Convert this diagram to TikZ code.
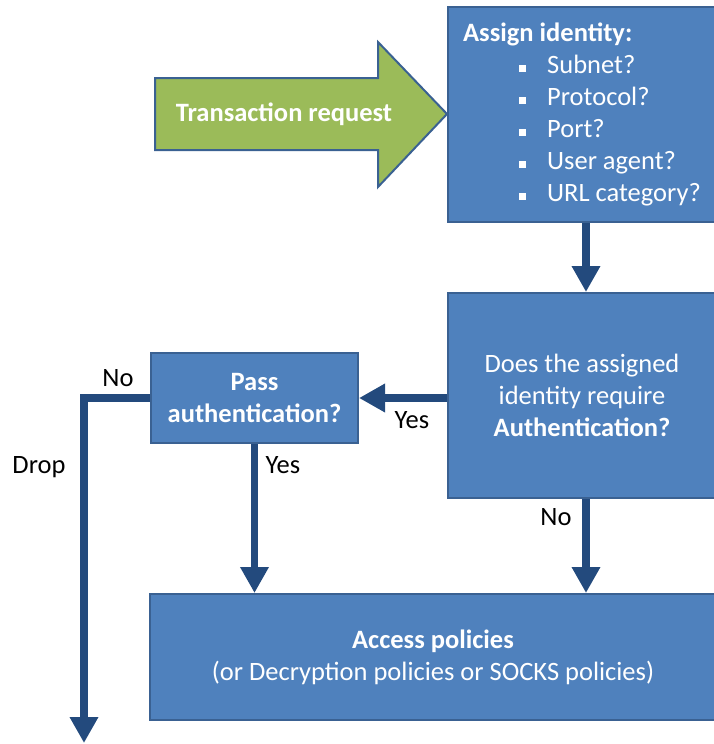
\documentclass[tikz,border=0pt]{standalone}
\usepackage{fontspec}
\setmainfont{Carlito}
\usepackage{tikz}
\usetikzlibrary{arrows.meta,positioning,calc}
\usepackage{xcolor}
\definecolor{boxblue}{HTML}{4F81BD}
\definecolor{boxedge}{HTML}{3A6192}
\definecolor{flowblue}{HTML}{234A7D}
\definecolor{reqgreen}{HTML}{9BBB59}
\newcommand{\idline}[1]{\hspace*{56pt}\rule[2pt]{7pt}{7pt}\hspace{21pt}#1}

\begin{document}
\begin{tikzpicture}[x=1pt,y=-1pt,
  box/.style={draw=boxedge, fill=boxblue, line width=2pt, text=white,
              align=center, font=\fontsize{26.5}{32}\selectfont, inner sep=0pt},
  lbl/.style={font=\fontsize{26.5}{32}\selectfont, inner sep=0pt},
  ar/.style={-{Triangle[length=26pt,width=27pt]}, line width=7.5pt, draw=flowblue}]
\useasboundingbox (0,0) rectangle (713,744);
% boxes
\node[box, minimum width=268pt, minimum height=215pt, align=left] (ident) at (582,114.5)
  {\textbf{Assign identity:}\\ \idline{Subnet?}\\ \idline{Protocol?}\\ \idline{Port?}\\
   \idline{User agent?}\\ \idline{URL category?}};
\node[box, minimum width=268pt, minimum height=205pt] (auth) at (582,395.5)
  {Does the assigned\\ identity require\\ \textbf{Authentication?}};
\node[box, minimum width=207pt, minimum height=90pt] (pass) at (254.5,398)
  {\textbf{Pass}\\ \textbf{authentication?}};
\node[box, minimum width=566pt, minimum height=126pt] (access) at (433,657)
  {\textbf{Access policies}\\ (or Decryption policies or SOCKS policies)};
% request arrow
\draw[draw=boxedge, fill=reqgreen, line width=2pt]
  (155,78) -- (378,78) -- (378,42) -- (447,114) -- (378,187) -- (378,150) -- (155,150) -- cycle;
\node[lbl, text=white] (req) at (284,114) {\textbf{Transaction request}};
\coordinate (drop) at (84,743);
% flow
\draw[ar] ([xshift=4pt]ident.south) -- ([xshift=4pt]auth.north);
\draw[ar] (pass.east -| auth.west) -- (pass.east);
\draw[ar] (pass.south) -- (pass.south |- access.north);
\draw[ar] ([xshift=4pt]auth.south) -- ([xshift=4pt]auth.south |- access.north);
\draw[ar] (pass.west) -| (drop);
% labels
\node[lbl] at (412,420) {Yes};
\node[lbl] at (283,465) {Yes};
\node[lbl] at (556,517) {No};
\node[lbl] at (118,378) {No};
\node[lbl] at (39,467) {Drop};
\end{tikzpicture}
\end{document}
